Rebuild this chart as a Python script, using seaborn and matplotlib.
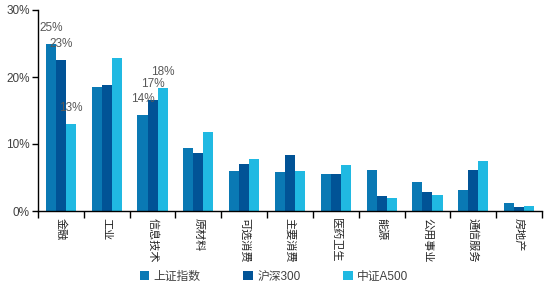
import matplotlib
matplotlib.use("Agg")
import matplotlib.pyplot as plt
import seaborn as sns
import pandas as pd
from matplotlib.ticker import FuncFormatter, FixedLocator

categories = ["金融", "工业", "信息技术", "原材料", "可选消费", "主要消费", "医药卫生", "能源", "公用事业", "通信服务", "房地产"]
series_names = ["上证指数", "沪深300", "中证A500"]
sse = [25.0, 18.5, 14.3, 9.4, 6.0, 5.8, 5.5, 6.1, 4.3, 3.1, 1.2]
hs300 = [22.6, 18.8, 16.6, 8.7, 7.0, 8.4, 5.5, 2.2, 2.8, 6.1, 0.6]
a500 = [13.0, 22.8, 18.4, 11.8, 7.8, 6.0, 6.9, 1.9, 2.4, 7.5, 0.75]
yticks = [0, 10, 20, 30]
labeled_categories = ["金融", "信息技术"]

colors = ["#0A79B4", "#015396", "#20B9E2"]

rows = []
for name, vals in zip(series_names, [sse, hs300, a500]):
    for c, v in zip(categories, vals):
        rows.append({"行业": c, "指数": name, "权重": v})
df = pd.DataFrame(rows)

sns.set_theme(style="white")
plt.rcParams['font.family'] = ['Liberation Sans', 'Noto Sans CJK SC', 'DejaVu Sans']

fig = plt.figure(figsize=(5.44, 2.88), dpi=100)
ax = fig.add_axes([38/544, 1 - 211/288, (542-38)/544, (211-10)/288])

sns.barplot(data=df, x="行业", y="权重", hue="指数", palette=colors,
            width=0.66, gap=0, ax=ax, saturation=1, errorbar=None,
            order=categories, hue_order=series_names, legend=True,
            linewidth=0, edgecolor="none")

ax.set_ylim(0, 30)
ax.set_xlim(-0.5, len(categories) - 0.5)
ax.yaxis.set_major_locator(FixedLocator(yticks))
ax.yaxis.set_major_formatter(FuncFormatter(lambda v, p: f"{v:.0f}%"))
ax.set_xlabel("")
ax.set_ylabel("")

for s in ["top", "right"]:
    ax.spines[s].set_visible(False)
for s in ["left", "bottom"]:
    ax.spines[s].set_color("black")
    ax.spines[s].set_linewidth(1.0)

ax.tick_params(axis="y", left=True, length=4, width=1, color="black",
               labelsize=8.5, labelcolor="#404040", pad=2)
ax.set_xticks(range(len(categories)))
ax.set_xticklabels(categories, rotation=-90, rotation_mode="anchor",
                   ha="left", va="center", fontsize=8, color="#222222",
                   family=["Noto Sans CJK SC"])
ax.tick_params(axis="x", which="major", bottom=False, length=0, pad=5)
# boundary ticks
ax.set_xticks([i - 0.5 for i in range(len(categories) + 1)], minor=True)
ax.tick_params(axis="x", which="minor", bottom=True, length=5, width=1, color="black")

# data labels on selected categories
for cont, vals in zip(ax.containers, [sse, hs300, a500]):
    for i, bar in enumerate(cont):
        if categories[i] in labeled_categories:
            ax.annotate(f"{vals[i]:.0f}%", (bar.get_x() + bar.get_width() / 2, bar.get_height()),
                        xytext=(0, 7), textcoords="offset points", ha="center", va="bottom",
                        fontsize=8.5, color="#595959")

leg = ax.get_legend()
handles = leg.legend_handles
leg.remove()
fig.legend(handles, series_names, loc="center", bbox_to_anchor=(274/544, 1 - 277/288),
           ncol=3, frameon=False, handlelength=0.8, handleheight=0.8,
           handletextpad=0.4, columnspacing=3.6, labelcolor="#404040",
           prop={"family": ["Liberation Sans", "Noto Sans CJK SC"], "size": 8.5})

fig.savefig("out.png", dpi=100)
